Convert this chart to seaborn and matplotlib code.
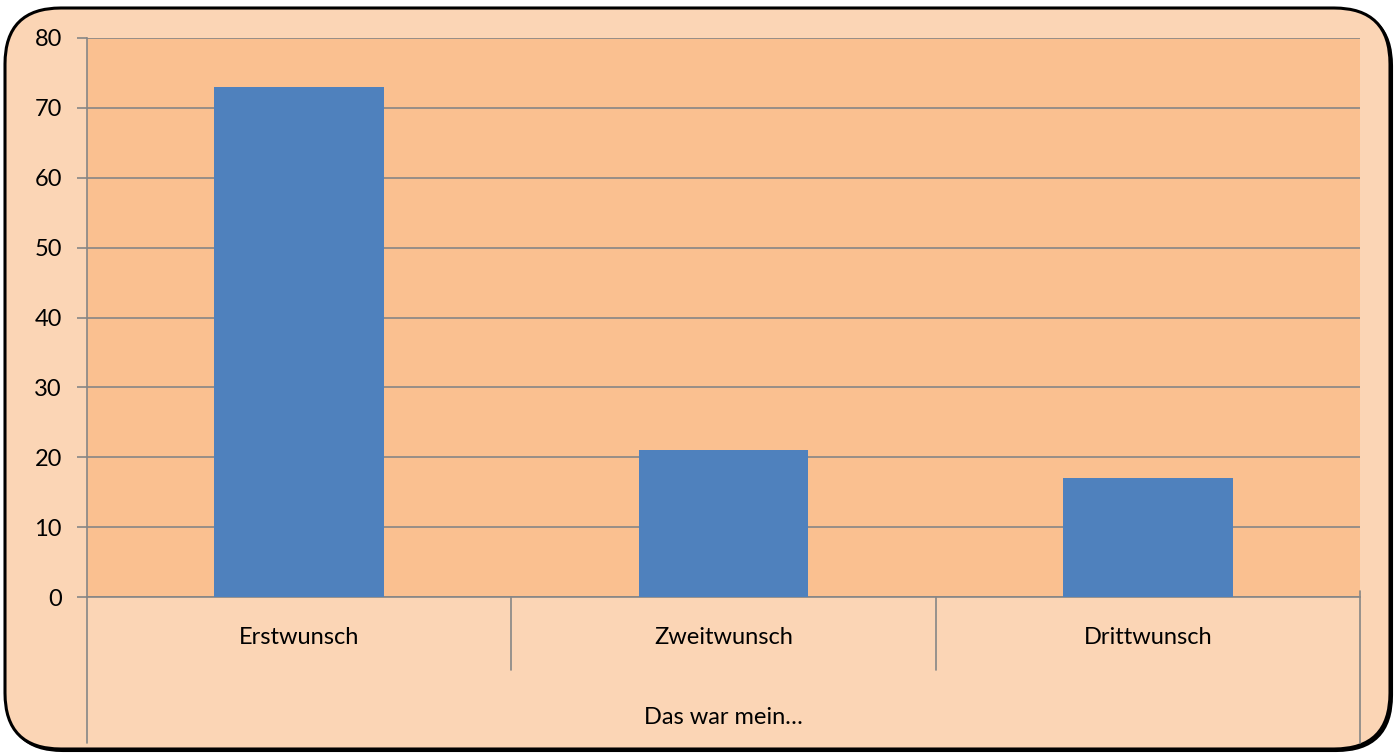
import matplotlib
matplotlib.use("Agg")
import matplotlib.pyplot as plt
from matplotlib.patches import FancyBboxPatch
import seaborn as sns
import pandas as pd

# chart data
categories = ["Erstwunsch", "Zweitwunsch", "Drittwunsch"]
values = [73, 21, 17]
group_label = "Das war mein…"
y_ticks = [0, 10, 20, 30, 40, 50, 60, 70, 80]

outer_bg = "#FBD5B5"
plot_bg = "#FAC090"
bar_color = "#4F81BD"
line_grey = "#868686"

sns.set_theme(style="white")
plt.rcParams["font.family"] = ["Lato", "DejaVu Sans"]

W, H = 1397, 755
fig = plt.figure(figsize=(W / 100, H / 100), dpi=100)
fig.patch.set_facecolor("white")

# rounded outer frame with a small shadow
shadow = FancyBboxPatch((7 / W, 1 - 751 / H), 1385 / W, 741 / H,
                        boxstyle="round,pad=0,rounding_size=0.04",
                        transform=fig.transFigure, facecolor="#000000",
                        edgecolor="#000000", linewidth=1.5, zorder=0,
                        mutation_aspect=W / H)
fig.patches.append(shadow)
frame = FancyBboxPatch((5 / W, 1 - 749 / H), 1385 / W, 741 / H,
                       boxstyle="round,pad=0,rounding_size=0.04",
                       transform=fig.transFigure, facecolor=outer_bg,
                       edgecolor="black", linewidth=2.2, zorder=1,
                       mutation_aspect=W / H)
fig.patches.append(frame)

left, right, top, bottom = 87, 1360, 38, 597
ax = fig.add_axes([left / W, 1 - bottom / H, (right - left) / W, (bottom - top) / H])
ax.set_zorder(2)
ax.set_facecolor(plot_bg)

df = pd.DataFrame({"cat": categories, "val": values})
sns.barplot(data=df, x="cat", y="val", color=bar_color, width=0.4,
            saturation=1, linewidth=0, edgecolor="none", ax=ax, zorder=3)

ax.set_ylim(0, 80)
ax.set_xlim(-0.5, len(categories) - 0.5)
ax.set_yticks(y_ticks)
ax.set_yticklabels([str(t) for t in y_ticks], fontsize=17, color="black")
ax.yaxis.grid(True, color=line_grey, linewidth=1.2, zorder=1)
ax.set_axisbelow(True)
ax.tick_params(axis="y", length=7, width=1.2, color=line_grey, pad=11, left=True)
ax.tick_params(axis="x", length=0, labelbottom=False)
ax.set_xlabel("")
ax.set_ylabel("")

for s in ["top", "right"]:
    ax.spines[s].set_visible(False)
for s in ["left", "bottom"]:
    ax.spines[s].set_color(line_grey)
    ax.spines[s].set_linewidth(1.2)

# category axis box below the plot
trans = ax.get_xaxis_transform()
px = 1 / (bottom - top)  # one pixel in axes fraction (vertical)
sep_low = -(670 - bottom) * px
full_low = -(743 - bottom) * px
for i in range(1, len(categories)):
    ax.plot([i - 0.5, i - 0.5], [0, sep_low], transform=trans, color=line_grey,
            linewidth=1.2, clip_on=False)
ax.plot([-0.5, -0.5], [0, full_low], transform=trans, color=line_grey,
        linewidth=1.2, clip_on=False)
ax.plot([len(categories) - 0.5] * 2, [6 * px, full_low], transform=trans,
        color=line_grey, linewidth=1.2, clip_on=False)

for i, c in enumerate(categories):
    ax.text(i, -(638 - bottom) * px, c, transform=trans, ha="center",
            va="center", fontsize=17, color="black")
ax.text((len(categories) - 1) / 2, -(717 - bottom) * px, group_label,
        transform=trans, ha="center", va="center", fontsize=17, color="black")

fig.savefig("out.png", dpi=100)
